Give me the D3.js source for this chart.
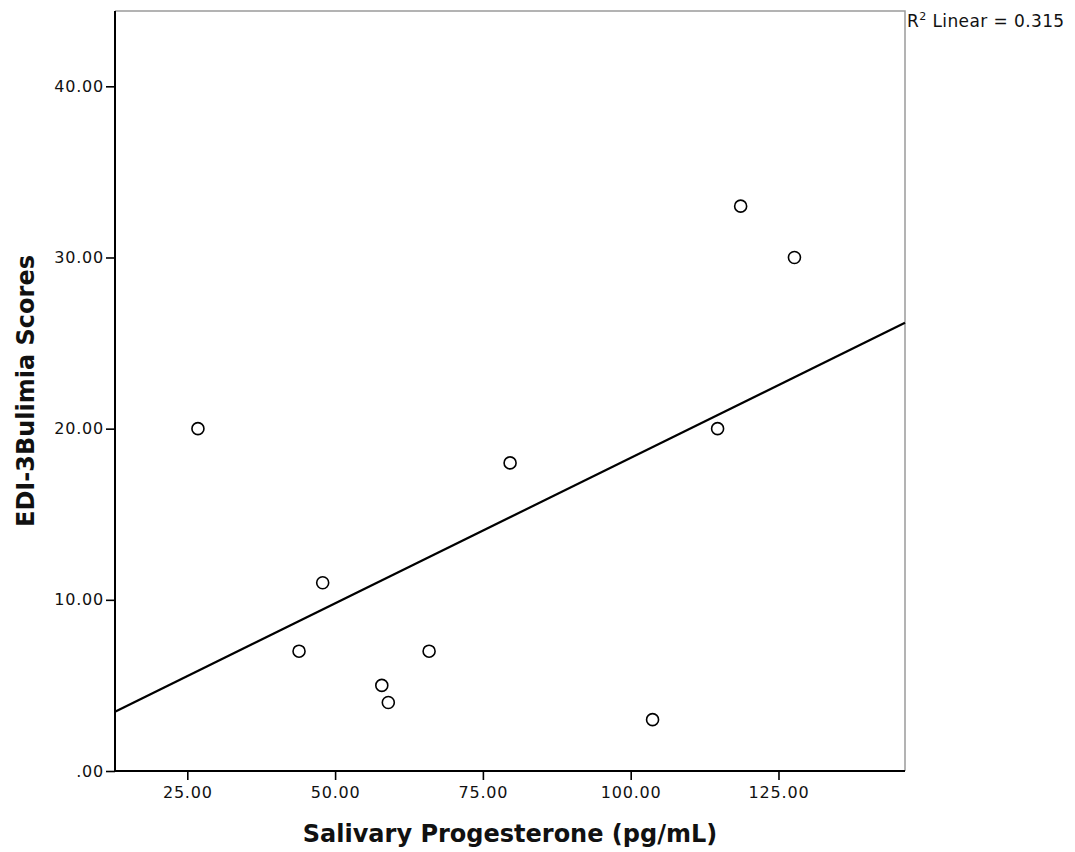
<!DOCTYPE html>
<html lang="en">
<head>
    <meta charset="utf-8">
    <title>EDI-3 Bulimia vs Salivary Progesterone</title>
    <script src="https://d3js.org/d3.v7.min.js"></script>
    <style>
        body { margin: 0; background: #fff; }
        text { font-family: "DejaVu Sans", sans-serif; fill: #111; }
    </style>
</head>
<body>
<script>
    // data
    var progesterone = [26.8, 47.9, 43.9, 57.9, 59.0, 65.9, 79.6, 103.7, 114.7, 118.6, 127.7];
    var bulimia      = [20, 11, 7, 5, 4, 7, 18, 3, 20, 33, 30];

    var xTicks = [25, 50, 75, 100, 125];
    var yTicks = [0, 10, 20, 30, 40];
    var r2Label = "0.315";

    var width = 1075, height = 852;
    // plot edges (note: "top" is reserved on window, so prefix them)
    var plotLeft = 115, plotRight = 905, plotTop = 11, plotBottom = 771;

    var svg = d3.select("body").append("svg")
        .attr("width", width)
        .attr("height", height);

    var x = d3.scaleLinear().domain([12.77, 146.4]).range([plotLeft, plotRight]);
    var y = d3.scaleLinear().domain([0, 44.4]).range([plotBottom, plotTop]);

    // top / right frame (light grey)
    svg.append("path")
        .attr("d", "M" + plotLeft + "," + plotTop + "H" + plotRight + "V" + plotBottom)
        .attr("fill", "none")
        .attr("stroke", "#9a9a9a")
        .attr("stroke-width", 1.5);

    // least squares fit line, computed from the points
    var mx = d3.mean(progesterone), my = d3.mean(bulimia);
    var sxy = d3.sum(progesterone, function (v, i) { return (v - mx) * (bulimia[i] - my); });
    var sxx = d3.sum(progesterone, function (v) { return (v - mx) * (v - mx); });
    var slope = sxy / sxx, intercept = my - slope * mx;
    var xd = x.domain();

    svg.append("line")
        .attr("x1", x(xd[0])).attr("y1", y(intercept + slope * xd[0]))
        .attr("x2", x(xd[1])).attr("y2", y(intercept + slope * xd[1]))
        .attr("stroke", "#000")
        .attr("stroke-width", 2.2);

    // points
    svg.selectAll("circle.pt")
        .data(progesterone)
        .enter()
        .append("circle")
        .attr("class", "pt")
        .attr("cx", function (d) { return x(d); })
        .attr("cy", function (d, i) { return y(bulimia[i]); })
        .attr("r", 6)
        .attr("fill", "#fff")
        .attr("stroke", "#000")
        .attr("stroke-width", 1.6);

    // axes
    var xAxis = d3.axisBottom(x)
        .tickValues(xTicks)
        .tickSize(9)
        .tickSizeOuter(0)
        .tickFormat(d3.format(".2f"));

    var yAxis = d3.axisLeft(y)
        .tickValues(yTicks)
        .tickSize(9)
        .tickSizeOuter(0)
        .tickFormat(function (d) { return d === 0 ? ".00" : d3.format(".2f")(d); });

    var gx = svg.append("g")
        .attr("transform", "translate(0," + plotBottom + ")")
        .call(xAxis);
    gx.select(".domain").attr("stroke", "#000").attr("stroke-width", 2).attr("d", "M" + (plotLeft - 1) + ",0H" + plotRight);
    gx.selectAll(".tick line").attr("stroke", "#000").attr("stroke-width", 1.6);
    gx.selectAll(".tick text")
        .attr("y", 16)
        .style("font-size", "16px")
        .style("letter-spacing", "0.8px")
        .style("font-family", "DejaVu Sans, sans-serif")
        .attr("fill", "#111");

    var gy = svg.append("g")
        .attr("transform", "translate(" + plotLeft + ",0)")
        .call(yAxis);
    gy.select(".domain").attr("stroke", "#000").attr("stroke-width", 2).attr("d", "M0," + plotTop + "V" + (plotBottom + 1));
    gy.selectAll(".tick line").attr("stroke", "#000").attr("stroke-width", 1.6);
    gy.selectAll(".tick text")
        .attr("x", -11)
        .style("font-size", "16px")
        .style("letter-spacing", "0.8px")
        .style("font-family", "DejaVu Sans, sans-serif")
        .attr("fill", "#111");

    // axis titles
    svg.append("text")
        .attr("x", (plotLeft + plotRight) / 2)
        .attr("y", 842)
        .attr("text-anchor", "middle")
        .style("font-size", "24px")
        .style("font-weight", "bold")
        .text("Salivary Progesterone (pg/mL)");

    svg.append("text")
        .attr("transform", "translate(34," + (plotTop + plotBottom) / 2 + ") rotate(-90)")
        .attr("text-anchor", "middle")
        .style("font-size", "24px")
        .style("font-weight", "bold")
        .text("EDI-3Bulimia Scores");

    // R squared label
    var r2 = svg.append("text")
        .attr("x", plotRight + 2)
        .attr("y", 27)
        .style("font-size", "17px")
        .style("letter-spacing", "0.4px");
    r2.append("tspan").text("R");
    r2.append("tspan").attr("dy", -7).style("font-size", "11px").text("2");
    r2.append("tspan").attr("dy", 7).text(" Linear = " + r2Label);
</script>
</body>
</html>
